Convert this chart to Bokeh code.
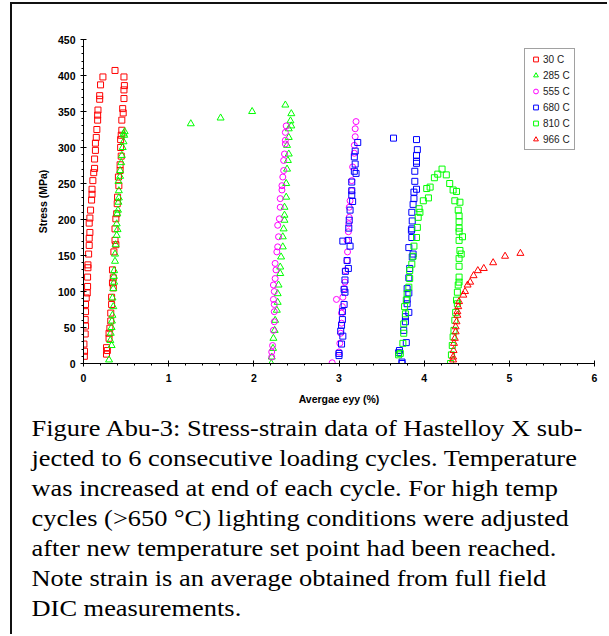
from bokeh.plotting import figure
from bokeh.models import Range1d, SingleIntervalTicker, Legend, Div
from bokeh.layouts import column
from bokeh.embed import file_html
from bokeh.resources import INLINE

# ---------------- data (strain %, stress MPa) ----------------
s30_x = [0.01, 0.012, 0.005, 0.02, 0.024, 0.02, 0.024, 0.024, 0.032, 0.044, 0.048, 0.048, 0.052, 0.052,
         0.06, 0.067, 0.067, 0.075, 0.067, 0.075, 0.083, 0.095, 0.10, 0.10, 0.11, 0.12, 0.13, 0.13, 0.14,
         0.14, 0.15, 0.157, 0.166, 0.166, 0.17, 0.19, 0.19, 0.20, 0.228, 0.37,
         0.475, 0.48, 0.475, 0.475, 0.466, 0.46, 0.45, 0.45, 0.443, 0.436, 0.436, 0.443, 0.43, 0.43, 0.41,
         0.415, 0.40, 0.396, 0.39, 0.38, 0.37, 0.37, 0.38, 0.357, 0.34, 0.35, 0.34, 0.35, 0.33, 0.33, 0.32,
         0.32, 0.31, 0.30, 0.30, 0.27, 0.28, 0.27]
s30_y = [10, 17, 27, 41, 52, 61, 72, 82, 91, 98, 107, 120, 133, 137,
         152, 164, 174, 182, 195, 202, 213, 227, 235, 242, 254, 265, 271, 284, 296,
         306, 314, 325, 338, 345, 352, 367, 372, 387, 398, 407,
         398, 386, 380, 368, 348, 354, 338, 324, 317, 311, 300, 288, 276, 268, 259,
         247, 231, 222, 208, 201, 187, 171, 165, 155, 130, 119, 112, 105, 92, 82, 70,
         59, 49, 42, 35, 22, 18, 13]

s285_x = [0.30, 0.33, 0.315, 0.32, 0.33, 0.334, 0.34, 0.35, 0.34, 0.35, 0.36, 0.357, 0.36, 0.37, 0.37,
          0.377, 0.39, 0.40, 0.39, 0.396, 0.405, 0.41, 0.415, 0.415, 0.41, 0.43, 0.43, 0.443, 0.45, 0.46,
          0.47, 0.478, 0.47, 0.483,
          1.26, 1.61, 1.98, 2.37,
          2.44, 2.43, 2.44, 2.41, 2.41, 2.39, 2.41, 2.40, 2.39, 2.38, 2.38, 2.36, 2.36, 2.36, 2.35, 2.34,
          2.34, 2.32, 2.31, 2.31, 2.29, 2.28, 2.28, 2.27, 2.25, 2.245, 2.23, 2.225, 2.21, 2.205]
s285_y = [5, 25, 32, 42, 50, 59, 67, 79, 91, 104, 113, 121, 129, 142, 152,
          165, 178, 186, 194, 208, 213, 224, 230, 240, 253, 260, 268, 279, 289, 300,
          308, 317, 319, 322,
          333, 341, 350, 359,
          347, 337, 330, 326, 314, 303, 291, 282, 270, 250, 231, 217, 206, 199, 187, 176,
          162, 148, 134, 125, 109, 97, 85, 74, 60, 46, 35, 21, 9, 0]

s555_x = [2.21, 2.21, 2.22, 2.23, 2.24, 2.24, 2.24, 2.23, 2.24, 2.23, 2.25, 2.26, 2.25, 2.27, 2.28,
          2.29, 2.28, 2.30, 2.31, 2.31, 2.33, 2.33, 2.34, 2.35, 2.35, 2.36, 2.37, 2.37, 2.37, 2.38,
          3.20, 3.19, 3.19, 3.18, 3.18, 3.16, 3.15, 3.15, 3.13, 3.12, 3.12, 3.115, 3.11, 3.095, 3.10,
          3.095, 3.075, 3.07, 3.06, 3.045, 2.97, 3.04, 3.03, 3.03, 3.02, 3.01, 3.0, 2.92]
s555_y = [9, 16, 25, 46, 58, 72, 82, 89, 100, 109, 118, 130, 139, 155, 162,
          176, 192, 201, 217, 229, 241, 247, 259, 268, 282, 291, 305, 310, 321, 330,
          336, 326, 315, 303, 292, 273, 254, 240, 226, 217, 203, 194, 183, 171, 155,
          143, 129, 113, 104, 92, 89, 79, 70, 56, 42, 28, 16, 1]

s680_x = [3.0, 3.0, 3.03, 3.045, 3.02, 3.03, 3.04, 3.04, 3.06, 3.07, 3.06, 3.07, 3.075, 3.11, 3.095,
          3.13, 3.045, 3.11, 3.115, 3.12, 3.13, 3.16, 3.15, 3.15, 3.15, 3.20, 3.18, 3.19, 3.18, 3.19, 3.22,
          3.64,
          3.91, 3.92, 3.91, 3.91, 3.91, 3.89, 3.89, 3.91, 3.88, 3.88, 3.87, 3.855, 3.86, 3.855, 3.85,
          3.855, 3.82, 3.87, 3.86, 3.83, 3.82, 3.80, 3.82, 3.80, 3.80, 3.82, 3.78, 3.78, 3.76, 3.79,
          3.71, 3.70, 3.74, 3.74]
s680_y = [11, 14, 27, 38, 45, 53, 61, 72, 82, 99, 103, 116, 128, 132, 143,
          163, 170, 171, 188, 199, 213, 225, 234, 240, 252, 264, 267, 277, 287, 295, 307,
          313,
          311, 297, 289, 281, 278, 267, 253, 242, 238, 229, 221, 210, 198, 187, 185,
          175, 161, 152, 148, 132, 119, 104, 98, 89, 83, 71, 65, 58, 46, 29,
          18, 15, 2, 0]

s810_x = [3.70, 3.72, 3.75, 3.76, 3.76, 3.78, 3.77, 3.79, 3.80, 3.82, 3.83, 3.83, 3.855, 3.87, 3.88,
          3.91, 3.92, 3.93, 3.95, 3.94, 3.99, 4.05, 4.03, 4.07, 4.12, 4.16, 4.21, 4.26, 4.30, 4.34,
          4.38, 4.36, 4.42, 4.40, 4.41, 4.41, 4.41, 4.41, 4.45, 4.41, 4.42, 4.435, 4.41, 4.41, 4.41,
          4.41, 4.40, 4.39, 4.38, 4.39, 4.37, 4.36, 4.35, 4.34, 4.33, 4.32, 4.31]
s810_y = [12, 14, 28, 42, 55, 69, 79, 88, 97, 106, 118, 129, 138, 149, 163,
          175, 189, 203, 210, 215, 226, 230, 243, 245, 258, 263, 270, 262, 250, 241,
          239, 226, 224, 213, 205, 197, 188, 183, 176, 171, 157, 152, 146, 135, 120,
          113, 109, 99, 88, 83, 71, 60, 46, 37, 25, 12, 0]

s966_x = [4.34, 4.34, 4.345, 4.35, 4.36, 4.37, 4.37, 4.38, 4.39, 4.39, 4.40, 4.41, 4.46, 4.48, 4.51,
          4.54, 4.58, 4.63, 4.70, 4.81, 4.95, 5.13]
s966_y = [5, 9, 18, 28, 35, 44, 51, 58, 67, 72, 79, 86, 95, 100, 109,
          113, 122, 129, 132, 140, 149, 153]

series_names = ["30 C", "285 C", "555 C", "680 C", "810 C", "966 C"]

x_label = "Avergae eyy (%)"
y_label = "Stress (MPa)"

caption_lines = [
    "Figure Abu-3: Stress-strain data of Hastelloy X sub-",
    "jected to 6 consecutive loading cycles. Temperature",
    "was increased at end of each cycle. For high temp",
    "cycles (&gt;650 \u00b0C) lighting conditions were adjusted",
    "after new temperature set point had been reached.",
    "Note strain is an average obtained from full field",
    "DIC measurements.",
]

# ---------------- figure ----------------
W, H = 595, 410
p = figure(width=W, height=H, output_backend="svg", toolbar_location=None,
           x_range=Range1d(0, 6), y_range=Range1d(0, 450),
           min_border_left=71, min_border_right=13, min_border_top=35, min_border_bottom=51)
p.outline_line_color = None
p.background_fill_color = "white"
p.border_fill_color = "white"
p.xgrid.visible = False
p.ygrid.visible = False

AX_FONT = "Liberation Sans"
for ax in (p.xaxis[0], p.yaxis[0]):
    ax.axis_line_color = "black"
    ax.axis_line_width = 1
    ax.major_tick_line_color = "black"
    ax.minor_tick_line_color = "black"
    ax.major_tick_in = 3
    ax.major_tick_out = 3
    ax.minor_tick_in = 0
    ax.minor_tick_out = 2
    ax.major_label_text_font = AX_FONT
    ax.major_label_text_font_style = "bold"
    ax.major_label_text_font_size = "10.5px"
    ax.major_label_text_color = "black"
    ax.axis_label_text_font = AX_FONT
    ax.axis_label_text_font_style = "bold"
    ax.axis_label_text_font_size = "10.5px"
    ax.axis_label_text_color = "black"

p.xaxis[0].ticker = SingleIntervalTicker(interval=1, num_minor_ticks=5)
p.yaxis[0].ticker = SingleIntervalTicker(interval=50, num_minor_ticks=5)
p.xaxis[0].major_label_standoff = 7
p.xaxis[0].axis_label_standoff = 8
p.yaxis[0].major_label_standoff = 5
p.yaxis[0].axis_label_standoff = 6
p.xaxis[0].axis_label = x_label
p.yaxis[0].axis_label = y_label

RED, GREEN, MAG, BLUE = "#ff0000", "#00ff00", "#ff00ff", "#0000ff"
specs = [
    (s30_x, s30_y, "square", RED, 6),
    (s285_x, s285_y, "triangle", GREEN, 7),
    (s555_x, s555_y, "circle", MAG, 6),
    (s680_x, s680_y, "square", BLUE, 6),
    (s810_x, s810_y, "square", GREEN, 6),
    (s966_x, s966_y, "triangle", RED, 7),
]
items = []
for (xs, ys, mk, col, sz), name in zip(specs, series_names):
    r = p.scatter(xs, ys, marker=mk, size=sz, fill_color=None, line_color=col, line_width=1)
    items.append((name, [r]))

legend = Legend(items=items, location=(441, 213), orientation="vertical",
                label_text_font=AX_FONT, label_text_font_size="10px", label_text_color="#222222",
                glyph_width=13, glyph_height=12, label_height=12, spacing=4, padding=4,
                label_standoff=1, margin=0,
                border_line_color="#444444", border_line_width=1,
                background_fill_color="white", background_fill_alpha=1.0)
p.add_layout(legend, "center")

caption = Div(
    text=('<div style="font-family: \'Liberation Serif\', \'Times New Roman\', serif; font-size: 23px; '
          'line-height: 30px; color: #000; white-space: nowrap; padding-left: 17px; margin: 0; '
          'transform: scaleX(1.148); transform-origin: 0 0;">'
          + "<br>".join(caption_lines) + "</div>"),
    width=W, height=220, margin=0)

layout = column(p, caption, margin=(2, 0, 0, 10), spacing=0,
                styles={"border-left": "2px solid #111111", "border-top": "2px solid #111111"})

open("out.html", "w").write(file_html(layout, INLINE))
